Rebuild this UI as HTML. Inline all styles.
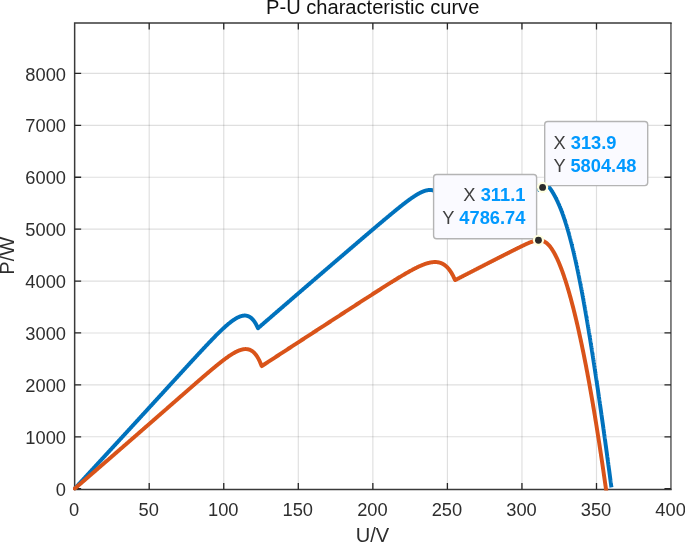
<!DOCTYPE html>
<html lang="en"><head><meta charset="utf-8"><title>P-U characteristic curve</title>
<style>html,body{margin:0;padding:0;background:#fff;overflow:hidden}body{width:685px;height:543px}svg{display:block}text{font-family:"Liberation Sans",Arial,Helvetica,sans-serif;fill:#2e2e2e}.t{font-size:18.3px}.l{font-size:20.1px}.k{fill:#404040;font-size:18.3px}.v{fill:#0099ff;font-weight:bold;font-size:18.3px}</style></head><body>
<svg width="685" height="543" viewBox="0 0 685 543">
<rect width="685" height="543" fill="#fff"/>
<path d="M149.20,23.05 V489.6 M223.75,23.05 V489.6 M298.30,23.05 V489.6 M372.85,23.05 V489.6 M447.40,23.05 V489.6 M521.95,23.05 V489.6 M596.50,23.05 V489.6" stroke="#262626" stroke-opacity="0.15" stroke-width="1.15" fill="none"/>
<path d="M74.65,436.79 H670.95 M74.65,384.88 H670.95 M74.65,332.97 H670.95 M74.65,281.06 H670.95 M74.65,229.15 H670.95 M74.65,177.24 H670.95 M74.65,125.33 H670.95 M74.65,73.42 H670.95" stroke="#262626" stroke-opacity="0.15" stroke-width="1.15" fill="none"/>
<path d="M74.65,489.6 V23.05 H670.95" stroke="#3a3a3a" stroke-width="1.5" fill="none" stroke-linecap="square"/>
<path d="M670.95,23.05 V489.6" stroke="#262626" stroke-width="1.4" fill="none" opacity="0.8"/>
<path d="M74.65,489.6 H670.95" stroke="#3a3a3a" stroke-width="1.5" fill="none" stroke-linecap="square"/>
<path d="M149.20,489.6 v-6.5 M149.20,23.05 v6.5 M223.75,489.6 v-6.5 M223.75,23.05 v6.5 M298.30,489.6 v-6.5 M298.30,23.05 v6.5 M372.85,489.6 v-6.5 M372.85,23.05 v6.5 M447.40,489.6 v-6.5 M447.40,23.05 v6.5 M521.95,489.6 v-6.5 M521.95,23.05 v6.5 M596.50,489.6 v-6.5 M596.50,23.05 v6.5 M74.65,488.70 h6.5 M670.95,488.70 h-6.5 M74.65,436.79 h6.5 M670.95,436.79 h-6.5 M74.65,384.88 h6.5 M670.95,384.88 h-6.5 M74.65,332.97 h6.5 M670.95,332.97 h-6.5 M74.65,281.06 h6.5 M670.95,281.06 h-6.5 M74.65,229.15 h6.5 M670.95,229.15 h-6.5 M74.65,177.24 h6.5 M670.95,177.24 h-6.5 M74.65,125.33 h6.5 M670.95,125.33 h-6.5 M74.65,73.42 h6.5 M670.95,73.42 h-6.5" stroke="#262626" stroke-width="1.3" fill="none"/>
<text class="t" x="74.2" y="515.9" text-anchor="middle">0</text>
<text class="t" x="148.7" y="515.9" text-anchor="middle">50</text>
<text class="t" x="223.3" y="515.9" text-anchor="middle">100</text>
<text class="t" x="297.8" y="515.9" text-anchor="middle">150</text>
<text class="t" x="372.4" y="515.9" text-anchor="middle">200</text>
<text class="t" x="446.9" y="515.9" text-anchor="middle">250</text>
<text class="t" x="521.5" y="515.9" text-anchor="middle">300</text>
<text class="t" x="596.0" y="515.9" text-anchor="middle">350</text>
<text class="t" x="670.6" y="515.9" text-anchor="middle">400</text>
<text class="t" x="66.0" y="495.8" text-anchor="end">0</text>
<text class="t" x="66.0" y="443.8" text-anchor="end">1000</text>
<text class="t" x="66.0" y="391.9" text-anchor="end">2000</text>
<text class="t" x="66.0" y="340.0" text-anchor="end">3000</text>
<text class="t" x="66.0" y="288.1" text-anchor="end">4000</text>
<text class="t" x="66.0" y="236.2" text-anchor="end">5000</text>
<text class="t" x="66.0" y="184.3" text-anchor="end">6000</text>
<text class="t" x="66.0" y="132.4" text-anchor="end">7000</text>
<text class="t" x="66.0" y="80.5" text-anchor="end">8000</text>
<text class="l" x="372.7" y="13.6" text-anchor="middle" style="fill:#111">P-U characteristic curve</text>
<text class="l" x="372.4" y="541.5" text-anchor="middle">U/V</text>
<text class="l" transform="translate(14.4,255.7) rotate(-90)" text-anchor="middle">P/W</text>
<defs><clipPath id="c"><rect x="73" y="22" width="599.6" height="468.6"/></clipPath></defs>
<g clip-path="url(#c)" fill="none" stroke-width="3.95" stroke-linejoin="round" stroke-linecap="round">
<path d="M74.65,488.70 L74.91,488.42 L75.17,488.14 L75.43,487.86 L75.69,487.58 L75.94,487.30 L76.20,487.02 L76.46,486.74 L76.72,486.46 L76.98,486.18 L77.24,485.89 L77.50,485.61 L77.76,485.33 L78.02,485.05 L78.28,484.77 L78.53,484.49 L78.79,484.21 L79.05,483.93 L79.31,483.65 L79.57,483.37 L79.83,483.09 L80.09,482.81 L80.35,482.53 L80.61,482.25 L80.87,481.97 L81.12,481.69 L81.38,481.40 L81.64,481.12 L81.90,480.84 L82.16,480.56 L82.42,480.28 L82.68,480.00 L82.94,479.72 L83.20,479.44 L83.46,479.16 L83.71,478.88 L83.97,478.60 L84.23,478.32 L84.49,478.04 L84.75,477.76 L85.01,477.47 L85.27,477.19 L85.53,476.91 L85.79,476.63 L86.05,476.35 L86.30,476.07 L86.56,475.79 L86.82,475.51 L87.08,475.23 L87.34,474.95 L87.60,474.67 L87.86,474.39 L88.12,474.10 L88.38,473.82 L88.63,473.54 L88.89,473.26 L89.15,472.98 L89.41,472.70 L89.67,472.42 L89.93,472.14 L90.19,471.86 L90.45,471.58 L90.71,471.30 L90.97,471.01 L91.22,470.73 L91.48,470.45 L91.74,470.17 L92.00,469.89 L92.26,469.61 L92.52,469.33 L92.78,469.05 L93.04,468.77 L93.30,468.49 L93.56,468.20 L93.81,467.92 L94.07,467.64 L94.33,467.36 L94.59,467.08 L94.85,466.80 L95.11,466.52 L95.37,466.24 L95.63,465.96 L95.89,465.68 L96.15,465.39 L96.40,465.11 L96.66,464.83 L96.92,464.55 L97.18,464.27 L97.44,463.99 L97.70,463.71 L97.96,463.43 L98.22,463.14 L98.48,462.86 L98.74,462.58 L98.99,462.30 L99.25,462.02 L99.51,461.74 L99.77,461.46 L100.03,461.18 L100.29,460.90 L100.55,460.61 L100.81,460.33 L101.07,460.05 L101.32,459.77 L101.58,459.49 L101.84,459.21 L102.10,458.93 L102.36,458.65 L102.62,458.36 L102.88,458.08 L103.14,457.80 L103.40,457.52 L103.66,457.24 L103.91,456.96 L104.17,456.68 L104.43,456.39 L104.69,456.11 L104.95,455.83 L105.21,455.55 L105.47,455.27 L105.73,454.99 L105.99,454.71 L106.25,454.43 L106.50,454.14 L106.76,453.86 L107.02,453.58 L107.28,453.30 L107.54,453.02 L107.80,452.74 L108.06,452.46 L108.32,452.17 L108.58,451.89 L108.84,451.61 L109.09,451.33 L109.35,451.05 L109.61,450.77 L109.87,450.48 L110.13,450.20 L110.39,449.92 L110.65,449.64 L110.91,449.36 L111.17,449.08 L111.43,448.80 L111.68,448.51 L111.94,448.23 L112.20,447.95 L112.46,447.67 L112.72,447.39 L112.98,447.11 L113.24,446.82 L113.50,446.54 L113.76,446.26 L114.01,445.98 L114.27,445.70 L114.53,445.42 L114.79,445.14 L115.05,444.85 L115.31,444.57 L115.57,444.29 L115.83,444.01 L116.09,443.73 L116.35,443.45 L116.60,443.16 L116.86,442.88 L117.12,442.60 L117.38,442.32 L117.64,442.04 L117.90,441.75 L118.16,441.47 L118.42,441.19 L118.68,440.91 L118.94,440.63 L119.19,440.35 L119.45,440.06 L119.71,439.78 L119.97,439.50 L120.23,439.22 L120.49,438.94 L120.75,438.66 L121.01,438.37 L121.27,438.09 L121.53,437.81 L121.78,437.53 L122.04,437.25 L122.30,436.96 L122.56,436.68 L122.82,436.40 L123.08,436.12 L123.34,435.84 L123.60,435.55 L123.86,435.27 L124.12,434.99 L124.37,434.71 L124.63,434.43 L124.89,434.15 L125.15,433.86 L125.41,433.58 L125.67,433.30 L125.93,433.02 L126.19,432.74 L126.45,432.45 L126.70,432.17 L126.96,431.89 L127.22,431.61 L127.48,431.33 L127.74,431.04 L128.00,430.76 L128.26,430.48 L128.52,430.20 L128.78,429.92 L129.04,429.63 L129.29,429.35 L129.55,429.07 L129.81,428.79 L130.07,428.51 L130.33,428.22 L130.59,427.94 L130.85,427.66 L131.11,427.38 L131.37,427.09 L131.63,426.81 L131.88,426.53 L132.14,426.25 L132.40,425.97 L132.66,425.68 L132.92,425.40 L133.18,425.12 L133.44,424.84 L133.70,424.56 L133.96,424.27 L134.22,423.99 L134.47,423.71 L134.73,423.43 L134.99,423.14 L135.25,422.86 L135.51,422.58 L135.77,422.30 L136.03,422.02 L136.29,421.73 L136.55,421.45 L136.81,421.17 L137.06,420.89 L137.32,420.60 L137.58,420.32 L137.84,420.04 L138.10,419.76 L138.36,419.48 L138.62,419.19 L138.88,418.91 L139.14,418.63 L139.39,418.35 L139.65,418.06 L139.91,417.78 L140.17,417.50 L140.43,417.22 L140.69,416.93 L140.95,416.65 L141.21,416.37 L141.47,416.09 L141.73,415.80 L141.98,415.52 L142.24,415.24 L142.50,414.96 L142.76,414.67 L143.02,414.39 L143.28,414.11 L143.54,413.83 L143.80,413.55 L144.06,413.26 L144.32,412.98 L144.57,412.70 L144.83,412.42 L145.09,412.13 L145.35,411.85 L145.61,411.57 L145.87,411.29 L146.13,411.00 L146.39,410.72 L146.65,410.44 L146.91,410.16 L147.16,409.87 L147.42,409.59 L147.68,409.31 L147.94,409.03 L148.20,408.74 L148.46,408.46 L148.72,408.18 L148.98,407.89 L149.24,407.61 L149.50,407.33 L149.75,407.05 L150.01,406.76 L150.27,406.48 L150.53,406.20 L150.79,405.92 L151.05,405.63 L151.31,405.35 L151.57,405.07 L151.83,404.79 L152.09,404.50 L152.34,404.22 L152.60,403.94 L152.86,403.66 L153.12,403.37 L153.38,403.09 L153.64,402.81 L153.90,402.52 L154.16,402.24 L154.42,401.96 L154.67,401.68 L154.93,401.39 L155.19,401.11 L155.45,400.83 L155.71,400.55 L155.97,400.26 L156.23,399.98 L156.49,399.70 L156.75,399.41 L157.01,399.13 L157.26,398.85 L157.52,398.57 L157.78,398.28 L158.04,398.00 L158.30,397.72 L158.56,397.44 L158.82,397.15 L159.08,396.87 L159.34,396.59 L159.60,396.30 L159.85,396.02 L160.11,395.74 L160.37,395.46 L160.63,395.17 L160.89,394.89 L161.15,394.61 L161.41,394.32 L161.67,394.04 L161.93,393.76 L162.19,393.48 L162.44,393.19 L162.70,392.91 L162.96,392.63 L163.22,392.35 L163.48,392.06 L163.74,391.78 L164.00,391.50 L164.26,391.21 L164.52,390.93 L164.78,390.65 L165.03,390.37 L165.29,390.08 L165.55,389.80 L165.81,389.52 L166.07,389.23 L166.33,388.95 L166.59,388.67 L166.85,388.39 L167.11,388.10 L167.36,387.82 L167.62,387.54 L167.88,387.25 L168.14,386.97 L168.40,386.69 L168.66,386.41 L168.92,386.12 L169.18,385.84 L169.44,385.56 L169.70,385.27 L169.95,384.99 L170.21,384.71 L170.47,384.43 L170.73,384.14 L170.99,383.86 L171.25,383.58 L171.51,383.29 L171.77,383.01 L172.03,382.73 L172.29,382.45 L172.54,382.16 L172.80,381.88 L173.06,381.60 L173.32,381.31 L173.58,381.03 L173.84,380.75 L174.10,380.47 L174.36,380.18 L174.62,379.90 L174.88,379.62 L175.13,379.33 L175.39,379.05 L175.65,378.77 L175.91,378.49 L176.17,378.20 L176.43,377.92 L176.69,377.64 L176.95,377.36 L177.21,377.07 L177.47,376.79 L177.72,376.51 L177.98,376.22 L178.24,375.94 L178.50,375.66 L178.76,375.38 L179.02,375.09 L179.28,374.81 L179.54,374.53 L179.80,374.25 L180.05,373.96 L180.31,373.68 L180.57,373.40 L180.83,373.12 L181.09,372.83 L181.35,372.55 L181.61,372.27 L181.87,371.99 L182.13,371.70 L182.39,371.42 L182.64,371.14 L182.90,370.86 L183.16,370.57 L183.42,370.29 L183.68,370.01 L183.94,369.73 L184.20,369.45 L184.46,369.16 L184.72,368.88 L184.98,368.60 L185.23,368.32 L185.49,368.03 L185.75,367.75 L186.01,367.47 L186.27,367.19 L186.53,366.91 L186.79,366.62 L187.05,366.34 L187.31,366.06 L187.57,365.78 L187.82,365.50 L188.08,365.21 L188.34,364.93 L188.60,364.65 L188.86,364.37 L189.12,364.09 L189.38,363.81 L189.64,363.52 L189.90,363.24 L190.16,362.96 L190.41,362.68 L190.67,362.40 L190.93,362.12 L191.19,361.84 L191.45,361.56 L191.71,361.27 L191.97,360.99 L192.23,360.71 L192.49,360.43 L192.74,360.15 L193.00,359.87 L193.26,359.59 L193.52,359.31 L193.78,359.03 L194.04,358.75 L194.30,358.47 L194.56,358.19 L194.82,357.91 L195.08,357.63 L195.33,357.34 L195.59,357.06 L195.85,356.78 L196.11,356.50 L196.37,356.22 L196.63,355.95 L196.89,355.67 L197.15,355.39 L197.41,355.11 L197.67,354.83 L197.92,354.55 L198.18,354.27 L198.44,353.99 L198.70,353.71 L198.96,353.43 L199.22,353.15 L199.48,352.87 L199.74,352.60 L200.00,352.32 L200.26,352.04 L200.51,351.76 L200.77,351.48 L201.03,351.20 L201.29,350.93 L201.55,350.65 L201.81,350.37 L202.07,350.09 L202.33,349.82 L202.59,349.54 L202.85,349.26 L203.10,348.99 L203.36,348.71 L203.62,348.43 L203.88,348.16 L204.14,347.88 L204.40,347.61 L204.66,347.33 L204.92,347.05 L205.18,346.78 L205.43,346.50 L205.69,346.23 L205.95,345.95 L206.21,345.68 L206.47,345.41 L206.73,345.13 L206.99,344.86 L207.25,344.58 L207.51,344.31 L207.77,344.04 L208.02,343.76 L208.28,343.49 L208.54,343.22 L208.80,342.95 L209.06,342.68 L209.32,342.40 L209.58,342.13 L209.84,341.86 L210.10,341.59 L210.36,341.32 L210.61,341.05 L210.87,340.78 L211.13,340.51 L211.39,340.24 L211.65,339.98 L211.91,339.71 L212.17,339.44 L212.43,339.17 L212.69,338.90 L212.95,338.64 L213.20,338.37 L213.46,338.11 L213.72,337.84 L213.98,337.58 L214.24,337.31 L214.50,337.05 L214.76,336.78 L215.02,336.52 L215.28,336.26 L215.54,335.99 L215.79,335.73 L216.05,335.47 L216.31,335.21 L216.57,334.95 L216.83,334.69 L217.09,334.43 L217.35,334.17 L217.61,333.91 L217.87,333.66 L218.12,333.40 L218.38,333.14 L218.64,332.89 L218.90,332.63 L219.16,332.38 L219.42,332.13 L219.68,331.87 L219.94,331.62 L220.20,331.37 L220.46,331.12 L220.71,330.87 L220.97,330.62 L221.23,330.37 L221.49,330.13 L221.75,329.88 L222.01,329.64 L222.27,329.39 L222.53,329.15 L222.79,328.90 L223.05,328.66 L223.30,328.42 L223.56,328.18 L223.82,327.94 L224.08,327.70 L224.34,327.47 L224.60,327.23 L224.86,327.00 L225.12,326.76 L225.38,326.53 L225.64,326.30 L225.89,326.07 L226.15,325.84 L226.41,325.62 L226.67,325.39 L226.93,325.16 L227.19,324.94 L227.45,324.72 L227.71,324.50 L227.97,324.28 L228.23,324.06 L228.48,323.85 L228.74,323.63 L229.00,323.42 L229.26,323.21 L229.52,323.00 L229.78,322.79 L230.04,322.59 L230.30,322.38 L230.56,322.18 L230.81,321.98 L231.07,321.78 L231.33,321.58 L231.59,321.39 L231.85,321.20 L232.11,321.01 L232.37,320.82 L232.63,320.63 L232.89,320.45 L233.15,320.27 L233.40,320.09 L233.66,319.91 L233.92,319.73 L234.18,319.56 L234.44,319.39 L234.70,319.23 L234.96,319.06 L235.22,318.90 L235.48,318.74 L235.74,318.59 L235.99,318.44 L236.25,318.29 L236.51,318.14 L236.77,318.00 L237.03,317.86 L237.29,317.72 L237.55,317.58 L237.81,317.45 L238.07,317.33 L238.33,317.20 L238.58,317.09 L238.84,316.97 L239.10,316.86 L239.36,316.75 L239.62,316.65 L239.88,316.55 L240.14,316.45 L240.40,316.36 L240.66,316.27 L240.92,316.19 L241.17,316.11 L241.43,316.04 L241.69,315.97 L241.95,315.91 L242.21,315.85 L242.47,315.80 L242.73,315.75 L242.99,315.71 L243.25,315.67 L243.50,315.64 L243.76,315.61 L244.02,315.59 L244.28,315.58 L244.54,315.57 L244.80,315.57 L245.06,315.58 L245.32,315.59 L245.58,315.61 L245.84,315.63 L246.09,315.67 L246.35,315.71 L246.61,315.75 L246.87,315.81 L247.13,315.87 L247.39,315.94 L247.65,316.02 L247.91,316.10 L248.17,316.20 L248.43,316.30 L248.68,316.41 L248.94,316.54 L249.20,316.67 L249.46,316.81 L249.72,316.95 L249.98,317.11 L250.24,317.28 L250.50,317.46 L250.76,317.65 L251.02,317.85 L251.27,318.06 L251.53,318.29 L251.79,318.52 L252.05,318.77 L252.31,319.03 L252.57,319.30 L252.83,319.58 L253.09,319.88 L253.35,320.19 L253.61,320.51 L253.86,320.84 L254.12,321.19 L254.38,321.56 L254.64,321.94 L254.90,322.33 L255.16,322.74 L255.42,323.17 L255.68,323.61 L255.94,324.07 L256.19,324.54 L256.45,325.03 L256.71,325.54 L256.97,326.07 L257.23,326.62 L257.49,327.18 L257.75,327.76 L258.01,328.20 L258.27,327.97 L258.53,327.75 L258.78,327.52 L259.04,327.30 L259.30,327.08 L259.56,326.85 L259.82,326.63 L260.08,326.40 L260.34,326.18 L260.60,325.96 L260.86,325.73 L261.12,325.51 L261.37,325.28 L261.63,325.06 L261.89,324.83 L262.15,324.61 L262.41,324.39 L262.67,324.16 L262.93,323.94 L263.19,323.71 L263.45,323.49 L263.71,323.27 L263.96,323.04 L264.22,322.82 L264.48,322.59 L264.74,322.37 L265.00,322.14 L265.26,321.92 L265.52,321.70 L265.78,321.47 L266.04,321.25 L266.30,321.02 L266.55,320.80 L266.81,320.58 L267.07,320.35 L267.33,320.13 L267.59,319.90 L267.85,319.68 L268.11,319.46 L268.37,319.23 L268.63,319.01 L268.88,318.78 L269.14,318.56 L269.40,318.34 L269.66,318.11 L269.92,317.89 L270.18,317.66 L270.44,317.44 L270.70,317.22 L270.96,316.99 L271.22,316.77 L271.47,316.54 L271.73,316.32 L271.99,316.10 L272.25,315.87 L272.51,315.65 L272.77,315.42 L273.03,315.20 L273.29,314.98 L273.55,314.75 L273.81,314.53 L274.06,314.31 L274.32,314.08 L274.58,313.86 L274.84,313.63 L275.10,313.41 L275.36,313.19 L275.62,312.96 L275.88,312.74 L276.14,312.51 L276.40,312.29 L276.65,312.07 L276.91,311.84 L277.17,311.62 L277.43,311.40 L277.69,311.17 L277.95,310.95 L278.21,310.72 L278.47,310.50 L278.73,310.28 L278.99,310.05 L279.24,309.83 L279.50,309.61 L279.76,309.38 L280.02,309.16 L280.28,308.93 L280.54,308.71 L280.80,308.49 L281.06,308.26 L281.32,308.04 L281.58,307.82 L281.83,307.59 L282.09,307.37 L282.35,307.15 L282.61,306.92 L282.87,306.70 L283.13,306.47 L283.39,306.25 L283.65,306.03 L283.91,305.80 L284.16,305.58 L284.42,305.36 L284.68,305.13 L284.94,304.91 L285.20,304.69 L285.46,304.46 L285.72,304.24 L285.98,304.01 L286.24,303.79 L286.50,303.57 L286.75,303.34 L287.01,303.12 L287.27,302.90 L287.53,302.67 L287.79,302.45 L288.05,302.23 L288.31,302.00 L288.57,301.78 L288.83,301.56 L289.09,301.33 L289.34,301.11 L289.60,300.89 L289.86,300.66 L290.12,300.44 L290.38,300.22 L290.64,299.99 L290.90,299.77 L291.16,299.55 L291.42,299.32 L291.68,299.10 L291.93,298.88 L292.19,298.65 L292.45,298.43 L292.71,298.21 L292.97,297.98 L293.23,297.76 L293.49,297.53 L293.75,297.31 L294.01,297.09 L294.27,296.86 L294.52,296.64 L294.78,296.42 L295.04,296.20 L295.30,295.97 L295.56,295.75 L295.82,295.53 L296.08,295.30 L296.34,295.08 L296.60,294.86 L296.85,294.63 L297.11,294.41 L297.37,294.19 L297.63,293.96 L297.89,293.74 L298.15,293.52 L298.41,293.29 L298.67,293.07 L298.93,292.85 L299.19,292.62 L299.44,292.40 L299.70,292.18 L299.96,291.95 L300.22,291.73 L300.48,291.51 L300.74,291.28 L301.00,291.06 L301.26,290.84 L301.52,290.61 L301.78,290.39 L302.03,290.17 L302.29,289.95 L302.55,289.72 L302.81,289.50 L303.07,289.28 L303.33,289.05 L303.59,288.83 L303.85,288.61 L304.11,288.38 L304.37,288.16 L304.62,287.94 L304.88,287.71 L305.14,287.49 L305.40,287.27 L305.66,287.05 L305.92,286.82 L306.18,286.60 L306.44,286.38 L306.70,286.15 L306.96,285.93 L307.21,285.71 L307.47,285.48 L307.73,285.26 L307.99,285.04 L308.25,284.82 L308.51,284.59 L308.77,284.37 L309.03,284.15 L309.29,283.92 L309.54,283.70 L309.80,283.48 L310.06,283.25 L310.32,283.03 L310.58,282.81 L310.84,282.59 L311.10,282.36 L311.36,282.14 L311.62,281.92 L311.88,281.69 L312.13,281.47 L312.39,281.25 L312.65,281.03 L312.91,280.80 L313.17,280.58 L313.43,280.36 L313.69,280.13 L313.95,279.91 L314.21,279.69 L314.47,279.47 L314.72,279.24 L314.98,279.02 L315.24,278.80 L315.50,278.58 L315.76,278.35 L316.02,278.13 L316.28,277.91 L316.54,277.68 L316.80,277.46 L317.06,277.24 L317.31,277.02 L317.57,276.79 L317.83,276.57 L318.09,276.35 L318.35,276.13 L318.61,275.90 L318.87,275.68 L319.13,275.46 L319.39,275.23 L319.65,275.01 L319.90,274.79 L320.16,274.57 L320.42,274.34 L320.68,274.12 L320.94,273.90 L321.20,273.68 L321.46,273.45 L321.72,273.23 L321.98,273.01 L322.23,272.79 L322.49,272.56 L322.75,272.34 L323.01,272.12 L323.27,271.90 L323.53,271.67 L323.79,271.45 L324.05,271.23 L324.31,271.01 L324.57,270.78 L324.82,270.56 L325.08,270.34 L325.34,270.12 L325.60,269.89 L325.86,269.67 L326.12,269.45 L326.38,269.23 L326.64,269.00 L326.90,268.78 L327.16,268.56 L327.41,268.34 L327.67,268.11 L327.93,267.89 L328.19,267.67 L328.45,267.45 L328.71,267.22 L328.97,267.00 L329.23,266.78 L329.49,266.56 L329.75,266.33 L330.00,266.11 L330.26,265.89 L330.52,265.67 L330.78,265.44 L331.04,265.22 L331.30,265.00 L331.56,264.78 L331.82,264.56 L332.08,264.33 L332.34,264.11 L332.59,263.89 L332.85,263.67 L333.11,263.44 L333.37,263.22 L333.63,263.00 L333.89,262.78 L334.15,262.55 L334.41,262.33 L334.67,262.11 L334.92,261.89 L335.18,261.67 L335.44,261.44 L335.70,261.22 L335.96,261.00 L336.22,260.78 L336.48,260.55 L336.74,260.33 L337.00,260.11 L337.26,259.89 L337.51,259.67 L337.77,259.44 L338.03,259.22 L338.29,259.00 L338.55,258.78 L338.81,258.56 L339.07,258.33 L339.33,258.11 L339.59,257.89 L339.85,257.67 L340.10,257.45 L340.36,257.22 L340.62,257.00 L340.88,256.78 L341.14,256.56 L341.40,256.33 L341.66,256.11 L341.92,255.89 L342.18,255.67 L342.44,255.45 L342.69,255.22 L342.95,255.00 L343.21,254.78 L343.47,254.56 L343.73,254.34 L343.99,254.11 L344.25,253.89 L344.51,253.67 L344.77,253.45 L345.03,253.23 L345.28,253.01 L345.54,252.78 L345.80,252.56 L346.06,252.34 L346.32,252.12 L346.58,251.90 L346.84,251.67 L347.10,251.45 L347.36,251.23 L347.61,251.01 L347.87,250.79 L348.13,250.57 L348.39,250.34 L348.65,250.12 L348.91,249.90 L349.17,249.68 L349.43,249.46 L349.69,249.23 L349.95,249.01 L350.20,248.79 L350.46,248.57 L350.72,248.35 L350.98,248.13 L351.24,247.90 L351.50,247.68 L351.76,247.46 L352.02,247.24 L352.28,247.02 L352.54,246.80 L352.79,246.57 L353.05,246.35 L353.31,246.13 L353.57,245.91 L353.83,245.69 L354.09,245.47 L354.35,245.24 L354.61,245.02 L354.87,244.80 L355.13,244.58 L355.38,244.36 L355.64,244.14 L355.90,243.92 L356.16,243.69 L356.42,243.47 L356.68,243.25 L356.94,243.03 L357.20,242.81 L357.46,242.59 L357.72,242.37 L357.97,242.14 L358.23,241.92 L358.49,241.70 L358.75,241.48 L359.01,241.26 L359.27,241.04 L359.53,240.82 L359.79,240.60 L360.05,240.37 L360.30,240.15 L360.56,239.93 L360.82,239.71 L361.08,239.49 L361.34,239.27 L361.60,239.05 L361.86,238.83 L362.12,238.60 L362.38,238.38 L362.64,238.16 L362.89,237.94 L363.15,237.72 L363.41,237.50 L363.67,237.28 L363.93,237.06 L364.19,236.84 L364.45,236.62 L364.71,236.39 L364.97,236.17 L365.23,235.95 L365.48,235.73 L365.74,235.51 L366.00,235.29 L366.26,235.07 L366.52,234.85 L366.78,234.63 L367.04,234.41 L367.30,234.19 L367.56,233.97 L367.82,233.74 L368.07,233.52 L368.33,233.30 L368.59,233.08 L368.85,232.86 L369.11,232.64 L369.37,232.42 L369.63,232.20 L369.89,231.98 L370.15,231.76 L370.41,231.54 L370.66,231.32 L370.92,231.10 L371.18,230.88 L371.44,230.66 L371.70,230.44 L371.96,230.22 L372.22,230.00 L372.48,229.78 L372.74,229.56 L372.99,229.34 L373.25,229.12 L373.51,228.90 L373.77,228.68 L374.03,228.46 L374.29,228.24 L374.55,228.02 L374.81,227.80 L375.07,227.58 L375.33,227.36 L375.58,227.14 L375.84,226.92 L376.10,226.70 L376.36,226.48 L376.62,226.26 L376.88,226.04 L377.14,225.82 L377.40,225.60 L377.66,225.38 L377.92,225.16 L378.17,224.94 L378.43,224.72 L378.69,224.50 L378.95,224.28 L379.21,224.07 L379.47,223.85 L379.73,223.63 L379.99,223.41 L380.25,223.19 L380.51,222.97 L380.76,222.75 L381.02,222.53 L381.28,222.31 L381.54,222.10 L381.80,221.88 L382.06,221.66 L382.32,221.44 L382.58,221.22 L382.84,221.00 L383.10,220.79 L383.35,220.57 L383.61,220.35 L383.87,220.13 L384.13,219.91 L384.39,219.70 L384.65,219.48 L384.91,219.26 L385.17,219.04 L385.43,218.83 L385.68,218.61 L385.94,218.39 L386.20,218.18 L386.46,217.96 L386.72,217.74 L386.98,217.53 L387.24,217.31 L387.50,217.09 L387.76,216.88 L388.02,216.66 L388.27,216.44 L388.53,216.23 L388.79,216.01 L389.05,215.80 L389.31,215.58 L389.57,215.36 L389.83,215.15 L390.09,214.93 L390.35,214.72 L390.61,214.50 L390.86,214.29 L391.12,214.07 L391.38,213.86 L391.64,213.64 L391.90,213.43 L392.16,213.22 L392.42,213.00 L392.68,212.79 L392.94,212.57 L393.20,212.36 L393.45,212.15 L393.71,211.94 L393.97,211.72 L394.23,211.51 L394.49,211.30 L394.75,211.08 L395.01,210.87 L395.27,210.66 L395.53,210.45 L395.79,210.24 L396.04,210.03 L396.30,209.82 L396.56,209.61 L396.82,209.40 L397.08,209.19 L397.34,208.98 L397.60,208.77 L397.86,208.56 L398.12,208.35 L398.37,208.14 L398.63,207.93 L398.89,207.72 L399.15,207.51 L399.41,207.31 L399.67,207.10 L399.93,206.89 L400.19,206.69 L400.45,206.48 L400.71,206.27 L400.96,206.07 L401.22,205.86 L401.48,205.66 L401.74,205.45 L402.00,205.25 L402.26,205.05 L402.52,204.84 L402.78,204.64 L403.04,204.44 L403.30,204.24 L403.55,204.03 L403.81,203.83 L404.07,203.63 L404.33,203.43 L404.59,203.23 L404.85,203.03 L405.11,202.84 L405.37,202.64 L405.63,202.44 L405.89,202.24 L406.14,202.05 L406.40,201.85 L406.66,201.66 L406.92,201.46 L407.18,201.27 L407.44,201.08 L407.70,200.88 L407.96,200.69 L408.22,200.50 L408.48,200.31 L408.73,200.12 L408.99,199.93 L409.25,199.74 L409.51,199.56 L409.77,199.37 L410.03,199.18 L410.29,199.00 L410.55,198.82 L410.81,198.63 L411.07,198.45 L411.32,198.27 L411.58,198.09 L411.84,197.91 L412.10,197.73 L412.36,197.55 L412.62,197.38 L412.88,197.20 L413.14,197.03 L413.40,196.86 L413.65,196.68 L413.91,196.51 L414.17,196.34 L414.43,196.18 L414.69,196.01 L414.95,195.84 L415.21,195.68 L415.47,195.51 L415.73,195.35 L415.99,195.19 L416.24,195.03 L416.50,194.88 L416.76,194.72 L417.02,194.57 L417.28,194.41 L417.54,194.26 L417.80,194.11 L418.06,193.97 L418.32,193.82 L418.58,193.68 L418.83,193.53 L419.09,193.39 L419.35,193.26 L419.61,193.12 L419.87,192.98 L420.13,192.85 L420.39,192.72 L420.65,192.59 L420.91,192.47 L421.17,192.34 L421.42,192.22 L421.68,192.10 L421.94,191.99 L422.20,191.87 L422.46,191.76 L422.72,191.65 L422.98,191.55 L423.24,191.45 L423.50,191.35 L423.76,191.25 L424.01,191.15 L424.27,191.06 L424.53,190.97 L424.79,190.89 L425.05,190.81 L425.31,190.73 L425.57,190.65 L425.83,190.58 L426.09,190.51 L426.34,190.45 L426.60,190.39 L426.86,190.33 L427.12,190.28 L427.38,190.23 L427.64,190.18 L427.90,190.14 L428.16,190.11 L428.42,190.07 L428.68,190.05 L428.93,190.02 L429.19,190.01 L429.45,189.99 L429.71,189.99 L429.97,189.98 L430.23,189.99 L430.49,189.99 L430.75,190.01 L431.01,190.03 L431.27,190.05 L431.52,190.08 L431.78,190.12 L432.04,190.16 L432.30,190.21 L432.56,190.26 L432.82,190.33 L433.08,190.40 L433.34,190.47 L433.60,190.55 L433.86,190.64 L434.11,190.74 L434.37,190.85 L434.63,190.96 L434.89,191.08 L435.15,191.21 L435.41,191.35 L435.67,191.50 L435.93,191.65 L436.19,191.82 L436.45,191.99 L436.70,192.17 L436.96,192.37 M537.31,190.21 L537.37,190.18 L537.44,190.14 L537.50,190.11 L537.57,190.07 L537.64,190.04 L537.70,190.00 L537.77,189.97 L537.83,189.94 L537.90,189.90 L537.96,189.87 L538.03,189.83 L538.10,189.80 L538.16,189.76 L538.23,189.73 L538.29,189.70 L538.36,189.66 L538.43,189.63 L538.49,189.59 L538.56,189.56 L538.62,189.52 L538.69,189.49 L538.75,189.46 L538.82,189.42 L538.89,189.39 L538.95,189.35 L539.02,189.32 L539.08,189.29 L539.15,189.25 L539.21,189.22 L539.28,189.18 L539.35,189.15 L539.41,189.11 L539.48,189.08 L539.54,189.05 L539.61,189.01 L539.67,188.98 L539.74,188.94 L539.81,188.91 L539.87,188.87 L539.94,188.84 L540.00,188.81 L540.07,188.77 L540.13,188.74 L540.20,188.70 L540.27,188.67 L540.33,188.64 L540.40,188.60 L540.46,188.57 L540.53,188.53 L540.60,188.50 L540.66,188.46 L540.73,188.43 L540.79,188.40 L540.86,188.36 L540.92,188.33 L540.99,188.29 L541.06,188.26 L541.12,188.23 L541.19,188.19 L541.25,188.16 L541.32,188.12 L541.38,188.09 L541.45,188.05 L541.52,188.02 L541.58,187.99 L541.65,187.95 L541.71,187.92 L541.78,187.88 L541.84,187.85 L541.91,187.82 L541.98,187.78 L542.04,187.75 L542.11,187.71 L542.17,187.68 L542.24,187.65 L542.30,187.61 L542.37,187.58 L542.44,187.54 L542.50,187.51 L542.57,187.47 L542.63,187.44 L542.70,187.41 L542.77,187.37 L542.83,187.34 L542.90,187.30 L542.96,187.27 L543.03,187.24 L543.09,187.20 L543.16,187.17 L543.23,187.13 L543.29,187.10 L543.36,187.07 L543.42,187.03 L543.49,187.00 L543.55,186.96 L543.62,186.93 L543.69,186.90 L543.75,186.86 L543.82,186.83 L543.88,186.79 L543.95,186.76 L544.01,186.73 L544.08,186.69 L544.15,186.66 L544.21,186.62 L544.28,186.59 L544.34,186.56 L544.41,186.52 L544.47,186.49 L544.54,186.45 L544.61,186.42 L544.67,186.38 L544.74,186.35 L544.80,186.32 L544.87,186.28 L544.94,186.25 L545.00,186.21 L545.07,186.18 L545.13,186.15 L545.20,186.11 L545.26,186.08 L545.33,186.04 L545.40,186.01 L545.46,185.98 L545.53,185.94 L545.59,185.91 L545.66,185.87 L545.72,185.84 L545.79,185.81 L545.86,185.77 L545.92,185.74 L545.99,185.70 L546.05,185.67 L546.12,185.64 L546.18,185.60 L546.25,185.57 L546.32,185.54 L546.38,185.50 L546.45,185.47 L546.51,185.44 L546.58,185.40 L546.64,185.37 L546.71,185.34 L546.78,185.32 L546.84,185.29 L546.91,185.27 L546.97,185.26 L547.04,185.25 L547.11,185.26 L547.17,185.27 L547.24,185.28 L547.30,185.31 L547.37,185.34 L547.43,185.38 L547.50,185.43 L547.57,185.47 L547.63,185.53 L547.70,185.58 L547.76,185.64 L547.83,185.70 L547.89,185.76 L547.96,185.82 L548.03,185.89 L548.09,185.96 L548.16,186.03 L548.22,186.10 L548.29,186.17 L548.35,186.24 L548.42,186.31 L548.49,186.39 L548.55,186.46 L548.62,186.54 L548.68,186.62 L548.75,186.70 L548.81,186.78 L548.88,186.86 L548.95,186.94 L549.01,187.02 L549.08,187.10 L549.14,187.18 L549.21,187.26 L549.28,187.35 L549.34,187.43 L549.41,187.52 L549.47,187.60 L549.54,187.69 L549.60,187.77 L549.67,187.86 L549.74,187.95 L549.80,188.04 L549.87,188.12 L549.93,188.21 L550.00,188.30 L550.06,188.39 L550.13,188.48 L550.20,188.57 L550.26,188.67 L550.33,188.76 L550.39,188.85 L550.46,188.94 L550.52,189.04 L550.59,189.13 L550.66,189.22 L550.72,189.32 L550.79,189.41 L550.85,189.51 L550.92,189.61 L550.98,189.70 L551.05,189.80 L551.12,189.90 L551.18,189.99 L551.25,190.09 L551.31,190.19 L551.38,190.29 L551.45,190.39 L551.51,190.49 L551.58,190.59 L551.64,190.69 L551.71,190.79 L551.77,190.89 L551.84,191.00 L551.91,191.10 L551.97,191.20 L552.04,191.30 L552.10,191.41 L552.17,191.51 L552.23,191.62 L552.30,191.72 L552.37,191.83 L552.43,191.93 L552.50,192.04 L552.56,192.15 L552.63,192.26 L552.69,192.36 L552.76,192.47 L552.83,192.58 L552.89,192.69 L552.96,192.80 L553.02,192.91 L553.09,193.02 L553.15,193.13 L553.22,193.24 L553.29,193.35 L553.35,193.46 L553.42,193.58 L553.48,193.69 L553.55,193.80 L553.62,193.92 L553.68,194.03 L553.75,194.14 L553.81,194.26 L553.88,194.38 L553.94,194.49 L554.01,194.61 L554.08,194.72 L554.14,194.84 L554.21,194.96 L554.27,195.08 L554.34,195.20 L554.40,195.32 L554.47,195.43 L554.54,195.55 L554.60,195.68 L554.67,195.80 L554.73,195.92 L554.80,196.04 L554.86,196.16 L554.93,196.28 L555.00,196.41 L555.06,196.53 L555.13,196.65 L555.19,196.78 L555.26,196.90 L555.32,197.03 L555.39,197.15 L555.46,197.28 L555.52,197.41 L555.59,197.53 L555.65,197.66 L555.72,197.79 L555.79,197.92 L555.85,198.05 L555.92,198.18 L555.98,198.31 L556.05,198.44 L556.11,198.57 L556.18,198.70 L556.25,198.83 L556.31,198.96 L556.38,199.09 L556.44,199.23 L556.51,199.36 L556.57,199.50 L556.64,199.63 L556.71,199.76 L556.77,199.90 L556.84,200.04 L556.90,200.17 L556.97,200.31 L557.03,200.45 L557.10,200.58 L557.17,200.72 L557.23,200.86 L557.30,201.00 L557.36,201.14 L557.43,201.28 L557.49,201.42 L557.56,201.56 L557.63,201.70 L557.69,201.85 L557.76,201.99 L557.82,202.13 L557.89,202.27 L557.96,202.42 L558.02,202.56 L558.09,202.71 L558.15,202.85 L558.22,203.00 L558.28,203.15 L558.35,203.29 L558.42,203.44 L558.48,203.59 L558.55,203.74 L558.61,203.88 L558.68,204.03 L558.74,204.18 L558.81,204.33 L558.88,204.48 L558.94,204.64 L559.01,204.79 L559.07,204.94 L559.14,205.09 L559.20,205.25 L559.27,205.40 L559.34,205.55 L559.40,205.71 L559.47,205.86 L559.53,206.02 L559.60,206.18 L559.66,206.33 L559.73,206.49 L559.80,206.65 L559.86,206.81 L559.93,206.97 L559.99,207.13 L560.06,207.29 L560.13,207.45 L560.19,207.61 L560.26,207.77 L560.32,207.93 L560.39,208.09 L560.45,208.26 L560.52,208.42 L560.59,208.58 L560.65,208.75 L560.72,208.91 L560.78,209.08 L560.85,209.24 L560.91,209.41 L560.98,209.58 L561.05,209.75 L561.11,209.91 L561.18,210.08 L561.24,210.25 L561.31,210.42 L561.37,210.59 L561.44,210.76 L561.51,210.93 L561.57,211.11 L561.64,211.28 L561.70,211.45 L561.77,211.63 L561.83,211.80 L561.90,211.97 L561.97,212.15 L562.03,212.32 L562.10,212.50 L562.16,212.68 L562.23,212.85 L562.30,213.03 L562.36,213.21 L562.43,213.39 L562.49,213.57 L562.56,213.75 L562.62,213.93 L562.69,214.11 L562.76,214.29 L562.82,214.47 L562.89,214.66 L562.95,214.84 L563.02,215.02 L563.08,215.21 L563.15,215.39 L563.22,215.58 L563.28,215.76 L563.35,215.95 L563.41,216.14 L563.48,216.33 L563.54,216.51 L563.61,216.70 L563.68,216.89 L563.74,217.08 L563.81,217.27 L563.87,217.46 L563.94,217.65 L564.00,217.85 L564.07,218.04 L564.14,218.23 L564.20,218.43 L564.27,218.62 L564.33,218.82 L564.40,219.01 L564.47,219.21 L564.53,219.40 L564.60,219.60 L564.66,219.80 L564.73,220.00 L564.79,220.20 L564.86,220.40 L564.93,220.59 L564.99,220.80 L565.06,221.00 L565.12,221.20 L565.19,221.40 L565.25,221.60 L565.32,221.81 L565.39,222.01 L565.45,222.22 L565.52,222.42 L565.58,222.63 L565.65,222.83 L565.71,223.04 L565.78,223.25 L565.85,223.45 L565.91,223.66 L565.98,223.87 L566.04,224.08 L566.11,224.29 L566.17,224.50 L566.24,224.71 L566.31,224.93 L566.37,225.14 L566.44,225.35 L566.50,225.57 L566.57,225.78 L566.64,225.99 L566.70,226.21 L566.77,226.43 L566.83,226.64 L566.90,226.86 L566.96,227.08 L567.03,227.30 L567.10,227.52 L567.16,227.74 L567.23,227.96 L567.29,228.18 L567.36,228.40 L567.42,228.62 L567.49,228.84 L567.56,229.07 L567.62,229.29 L567.69,229.51 L567.75,229.74 L567.82,229.96 L567.88,230.19 L567.95,230.42 L568.02,230.64 L568.08,230.87 L568.15,231.10 L568.21,231.33 L568.28,231.56 L568.34,231.79 L568.41,232.02 L568.48,232.25 L568.54,232.48 L568.61,232.72 L568.67,232.95 L568.74,233.18 L568.81,233.42 L568.87,233.65 L568.94,233.89 L569.00,234.12 L569.07,234.36 L569.13,234.60 L569.20,234.84 L569.27,235.07 L569.33,235.31 L569.40,235.55 L569.46,235.79 L569.53,236.03 L569.59,236.28 L569.66,236.52 L569.73,236.76 L569.79,237.00 L569.86,237.25 L569.92,237.49 L569.99,237.74 L570.05,237.98 L570.12,238.23 L570.19,238.48 L570.25,238.72 L570.32,238.97 L570.38,239.22 L570.45,239.47 L570.51,239.72 L570.58,239.97 L570.65,240.22 L570.71,240.47 L570.78,240.73 L570.84,240.98 L570.91,241.23 L570.98,241.49 L571.04,241.74 L571.11,242.00 L571.17,242.25 L571.24,242.51 L571.30,242.77 L571.37,243.02 L571.44,243.28 L571.50,243.54 L571.57,243.80 L571.63,244.06 L571.70,244.32 L571.76,244.58 L571.83,244.84 L571.90,245.11 L571.96,245.37 L572.03,245.63 L572.09,245.90 L572.16,246.16 L572.22,246.43 L572.29,246.69 L572.36,246.96 L572.42,247.23 L572.49,247.49 L572.55,247.76 L572.62,248.03 L572.68,248.30 L572.75,248.57 L572.82,248.84 L572.88,249.11 L572.95,249.39 L573.01,249.66 L573.08,249.93 L573.15,250.21 L573.21,250.48 L573.28,250.76 L573.34,251.03 L573.41,251.31 L573.47,251.58 L573.54,251.86 L573.61,252.14 L573.67,252.42 L573.74,252.70 L573.80,252.98 L573.87,253.26 L573.93,253.54 L574.00,253.82 L574.07,254.10 L574.13,254.39 L574.20,254.67 L574.26,254.95 L574.33,255.24 L574.39,255.52 L574.46,255.81 L574.53,256.09 L574.59,256.38 L574.66,256.67 L574.72,256.96 L574.79,257.25 L574.85,257.53 L574.92,257.82 L574.99,258.11 L575.05,258.41 L575.12,258.70 L575.18,258.99 L575.25,259.28 L575.32,259.58 L575.38,259.87 L575.45,260.17 L575.51,260.46 L575.58,260.75 L575.64,261.05 L575.71,261.35 L575.78,261.65 L575.84,261.94 L575.91,262.24 L575.97,262.54 L576.04,262.84 L576.10,263.14 L576.17,263.44 L576.24,263.74 L576.30,264.05 L576.37,264.35 L576.43,264.65 L576.50,264.96 L576.56,265.26 L576.63,265.57 L576.70,265.87 L576.76,266.18 L576.83,266.49 L576.89,266.79 L576.96,267.10 L577.02,267.41 L577.09,267.72 L577.16,268.03 L577.22,268.34 L577.29,268.65 L577.35,268.96 L577.42,269.27 L577.49,269.59 L577.55,269.90 L577.62,270.21 L577.68,270.52 L577.75,270.84 L577.81,271.16 L577.88,271.47 L577.95,271.79 L578.01,272.10 L578.08,272.42 L578.14,272.74 L578.21,273.06 L578.27,273.38 L578.34,273.70 L578.41,274.02 L578.47,274.34 L578.54,274.66 L578.60,274.98 L578.67,275.31 L578.73,275.63 L578.80,275.95 L578.87,276.28 L578.93,276.60 L579.00,276.93 L579.06,277.25 L579.13,277.58 L579.19,277.91 L579.26,278.24 L579.33,278.56 L579.39,278.89 L579.46,279.22 L579.52,279.55 L579.59,279.88 L579.66,280.21 L579.72,280.54 L579.79,280.88 L579.85,281.21 L579.92,281.54 L579.98,281.88 L580.05,282.21 L580.12,282.54 L580.18,282.88 L580.25,283.21 L580.31,283.55 L580.38,283.89 L580.44,284.23 L580.51,284.56 L580.58,284.90 L580.64,285.24 L580.71,285.58 L580.77,285.92 L580.84,286.26 L580.90,286.60 L580.97,286.94 L581.04,287.29 L581.10,287.63 L581.17,287.97 L581.23,288.32 L581.30,288.66 L581.36,289.01 L581.43,289.35 L581.50,289.70 L581.56,290.05 L581.63,290.39 L581.69,290.74 L581.76,291.09 L581.83,291.43 L581.89,291.78 L581.96,292.14 L582.02,292.49 L582.09,292.84 L582.15,293.19 L582.22,293.54 L582.29,293.89 L582.35,294.24 L582.42,294.60 L582.48,294.95 L582.55,295.30 L582.61,295.66 L582.68,296.01 L582.75,296.37 L582.81,296.73 L582.88,297.08 L582.94,297.44 L583.01,297.80 L583.07,298.16 L583.14,298.52 L583.21,298.87 L583.27,299.23 L583.34,299.59 L583.40,299.95 L583.47,300.32 L583.53,300.68 L583.60,301.04 L583.67,301.40 L583.73,301.77 L583.80,302.13 L583.86,302.49 L583.93,302.86 L584.00,303.22 L584.06,303.59 L584.13,303.96 L584.19,304.32 L584.26,304.69 L584.32,305.06 L584.39,305.43 L584.46,305.80 L584.52,306.16 L584.59,306.53 L584.65,306.90 L584.72,307.27 L584.78,307.64 L584.85,308.02 L584.92,308.39 L584.98,308.76 L585.05,309.13 L585.11,309.51 L585.18,309.88 L585.24,310.26 L585.31,310.63 L585.38,311.01 L585.44,311.38 L585.51,311.76 L585.57,312.13 L585.64,312.51 L585.70,312.89 L585.77,313.27 L585.84,313.65 L585.90,314.03 L585.97,314.40 L586.03,314.78 L586.10,315.16 L586.17,315.55 L586.23,315.93 L586.30,316.31 L586.36,316.69 L586.43,317.07 L586.49,317.46 L586.56,317.84 L586.63,318.23 L586.69,318.61 L586.76,318.99 L586.82,319.38 L586.89,319.76 L586.95,320.15 L587.02,320.54 L587.09,320.93 L587.15,321.31 L587.22,321.70 L587.28,322.09 L587.35,322.48 L587.41,322.87 L587.48,323.26 L587.55,323.65 L587.61,324.04 L587.68,324.43 L587.74,324.82 L587.81,325.21 L587.87,325.60 L587.94,326.00 L588.01,326.39 L588.07,326.79 L588.14,327.18 L588.20,327.57 L588.27,327.97 L588.34,328.36 L588.40,328.76 L588.47,329.16 L588.53,329.55 L588.60,329.95 L588.66,330.35 L588.73,330.75 L588.80,331.14 L588.86,331.54 L588.93,331.94 L588.99,332.34 L589.06,332.74 L589.12,333.14 L589.19,333.54 L589.26,333.94 L589.32,334.35 L589.39,334.75 L589.45,335.15 L589.52,335.56 L589.58,335.96 L589.65,336.36 L589.72,336.77 L589.78,337.17 L589.85,337.57 L589.91,337.98 L589.98,338.39 L590.04,338.79 L590.11,339.20 L590.18,339.61 L590.24,340.01 L590.31,340.42 L590.37,340.83 L590.44,341.24 L590.51,341.65 L590.57,342.06 L590.64,342.47 L590.70,342.88 L590.77,343.29 L590.83,343.70 L590.90,344.11 L590.97,344.52 L591.03,344.93 L591.10,345.35 L591.16,345.76 L591.23,346.17 L591.29,346.58 L591.36,347.00 L591.43,347.41 L591.49,347.83 L591.56,348.24 L591.62,348.66 L591.69,349.07 L591.75,349.49 L591.82,349.91 L591.89,350.32 L591.95,350.74 L592.02,351.16 L592.08,351.58 L592.15,352.00 L592.21,352.41 L592.28,352.83 L592.35,353.25 L592.41,353.67 L592.48,354.09 L592.54,354.51 L592.61,354.94 L592.68,355.36 L592.74,355.78 L592.81,356.20 L592.87,356.62 L592.94,357.05 L593.00,357.47 L593.07,357.89 L593.14,358.32 L593.20,358.74 L593.27,359.17 L593.33,359.59 L593.40,360.01 L593.46,360.44 L593.53,360.87 L593.60,361.29 L593.66,361.72 L593.73,362.15 L593.79,362.58 L593.86,363.00 L593.92,363.43 L593.99,363.86 L594.06,364.29 L594.12,364.72 L594.19,365.15 L594.25,365.58 L594.32,366.01 L594.38,366.44 L594.45,366.87 L594.52,367.30 L594.58,367.73 L594.65,368.16 L594.71,368.60 L594.78,369.03 L594.85,369.46 L594.91,369.90 L594.98,370.33 L595.04,370.76 L595.11,371.20 L595.17,371.63 L595.24,372.07 L595.31,372.50 L595.37,372.94 L595.44,373.37 L595.50,373.81 L595.57,374.25 L595.63,374.68 L595.70,375.12 L595.77,375.56 L595.83,376.00 L595.90,376.43 L595.96,376.87 L596.03,377.31 L596.09,377.75 L596.16,378.19 L596.23,378.63 L596.29,379.07 L596.36,379.51 L596.42,379.95 L596.49,380.39 L596.55,380.83 L596.62,381.28 L596.69,381.72 L596.75,382.16 L596.82,382.60 L596.88,383.04 L596.95,383.49 L597.02,383.93 L597.08,384.38 L597.15,384.82 L597.21,385.26 L597.28,385.71 L597.34,386.15 L597.41,386.60 L597.48,387.05 L597.54,387.49 L597.61,387.94 L597.67,388.38 L597.74,388.83 L597.80,389.28 L597.87,389.73 L597.94,390.17 L598.00,390.62 L598.07,391.07 L598.13,391.52 L598.20,391.97 L598.26,392.42 L598.33,392.87 L598.40,393.32 L598.46,393.77 L598.53,394.22 L598.59,394.67 L598.66,395.12 L598.72,395.57 L598.79,396.02 L598.86,396.47 L598.92,396.93 L598.99,397.38 L599.05,397.83 L599.12,398.28 L599.19,398.74 L599.25,399.19 L599.32,399.64 L599.38,400.10 L599.45,400.55 L599.51,401.01 L599.58,401.46 L599.65,401.92 L599.71,402.37 L599.78,402.83 L599.84,403.29 L599.91,403.74 L599.97,404.20 L600.04,404.66 L600.11,405.11 L600.17,405.57 L600.24,406.03 L600.30,406.49 L600.37,406.95 L600.43,407.40 L600.50,407.86 L600.57,408.32 L600.63,408.78 L600.70,409.24 L600.76,409.70 L600.83,410.16 L600.89,410.62 L600.96,411.08 L601.03,411.54 L601.09,412.00 L601.16,412.47 L601.22,412.93 L601.29,413.39 L601.36,413.85 L601.42,414.32 L601.49,414.78 L601.55,415.24 L601.62,415.71 L601.68,416.17 L601.75,416.63 L601.82,417.10 L601.88,417.56 L601.95,418.03 L602.01,418.49 L602.08,418.96 L602.14,419.42 L602.21,419.89 L602.28,420.35 L602.34,420.82 L602.41,421.29 L602.47,421.75 L602.54,422.22 L602.60,422.69 L602.67,423.16 L602.74,423.62 L602.80,424.09 L602.87,424.56 L602.93,425.03 L603.00,425.50 L603.06,425.96 L603.13,426.43 L603.20,426.90 L603.26,427.37 L603.33,427.84 L603.39,428.32 L603.46,428.79 L603.53,429.26 L603.59,429.73 L603.66,430.20 L603.72,430.67 L603.79,431.14 L603.85,431.61 L603.92,432.09 L603.99,432.56 L604.05,433.03 L604.12,433.50 L604.18,433.98 L604.25,434.45 L604.31,434.92 L604.38,435.40 L604.45,435.87 L604.51,436.35 L604.58,436.82 L604.64,437.30 L604.71,437.77 L604.77,438.25 L604.84,438.72 L604.91,439.20 L604.97,439.67 L605.04,440.15 L605.10,440.63 L605.17,441.10 L605.23,441.58 L605.30,442.06 L605.37,442.53 L605.43,443.01 L605.50,443.49 L605.56,443.97 L605.63,444.45 L605.70,444.92 L605.76,445.40 L605.83,445.88 L605.89,446.36 L605.96,446.84 L606.02,447.32 L606.09,447.80 L606.16,448.28 L606.22,448.76 L606.29,449.24 L606.35,449.72 L606.42,450.20 L606.48,450.68 L606.55,451.17 L606.62,451.65 L606.68,452.13 L606.75,452.61 L606.81,453.09 L606.88,453.58 L606.94,454.06 L607.01,454.54 L607.08,455.03 L607.14,455.51 L607.21,455.99 L607.27,456.48 L607.34,456.96 L607.40,457.44 L607.47,457.93 L607.54,458.41 L607.60,458.90 L607.67,459.38 L607.73,459.87 L607.80,460.36 L607.87,460.84 L607.93,461.33 L608.00,461.81 L608.06,462.30 L608.13,462.79 L608.19,463.27 L608.26,463.76 L608.33,464.25 L608.39,464.74 L608.46,465.22 L608.52,465.71 L608.59,466.20 L608.65,466.69 L608.72,467.18 L608.79,467.66 L608.85,468.15 L608.92,468.64 L608.98,469.13 L609.05,469.62 L609.11,470.11 L609.18,470.60 L609.25,471.09 L609.31,471.58 L609.38,472.07 L609.44,472.56 L609.51,473.05 L609.57,473.54 L609.64,474.04 L609.71,474.53 L609.77,475.02 L609.84,475.51 L609.90,476.00 L609.97,476.50 L610.04,476.99 L610.10,477.48 L610.17,477.98 L610.23,478.47 L610.30,478.96 L610.36,479.45 L610.43,479.95 L610.50,480.44 L610.56,480.94 L610.63,481.43 L610.69,481.93 L610.76,482.42 L610.82,482.92 L610.89,483.41 L610.96,483.91 L611.02,484.40 L611.09,484.90 L611.15,485.39 L611.22,485.89 L611.28,486.39 L611.35,486.88 L611.42,487.38" stroke="#0072bd" stroke-linecap="butt"/>
<path d="M74.65,488.70 L75.05,488.36 L75.44,488.02 L75.84,487.67 L76.24,487.33 L76.63,486.99 L77.03,486.65 L77.43,486.30 L77.82,485.96 L78.22,485.62 L78.61,485.28 L79.01,484.93 L79.41,484.59 L79.80,484.25 L80.20,483.91 L80.60,483.57 L80.99,483.22 L81.39,482.88 L81.79,482.54 L82.18,482.20 L82.58,481.85 L82.98,481.51 L83.37,481.17 L83.77,480.82 L84.17,480.48 L84.56,480.14 L84.96,479.80 L85.35,479.45 L85.75,479.11 L86.15,478.77 L86.54,478.43 L86.94,478.08 L87.34,477.74 L87.73,477.40 L88.13,477.05 L88.53,476.71 L88.92,476.37 L89.32,476.03 L89.72,475.68 L90.11,475.34 L90.51,475.00 L90.90,474.65 L91.30,474.31 L91.70,473.97 L92.09,473.62 L92.49,473.28 L92.89,472.94 L93.28,472.59 L93.68,472.25 L94.08,471.91 L94.47,471.57 L94.87,471.22 L95.27,470.88 L95.66,470.54 L96.06,470.19 L96.46,469.85 L96.85,469.51 L97.25,469.16 L97.64,468.82 L98.04,468.48 L98.44,468.13 L98.83,467.79 L99.23,467.45 L99.63,467.10 L100.02,466.76 L100.42,466.41 L100.82,466.07 L101.21,465.73 L101.61,465.38 L102.01,465.04 L102.40,464.70 L102.80,464.35 L103.20,464.01 L103.59,463.67 L103.99,463.32 L104.38,462.98 L104.78,462.63 L105.18,462.29 L105.57,461.95 L105.97,461.60 L106.37,461.26 L106.76,460.92 L107.16,460.57 L107.56,460.23 L107.95,459.88 L108.35,459.54 L108.75,459.20 L109.14,458.85 L109.54,458.51 L109.94,458.16 L110.33,457.82 L110.73,457.48 L111.12,457.13 L111.52,456.79 L111.92,456.44 L112.31,456.10 L112.71,455.75 L113.11,455.41 L113.50,455.07 L113.90,454.72 L114.30,454.38 L114.69,454.03 L115.09,453.69 L115.49,453.34 L115.88,453.00 L116.28,452.66 L116.68,452.31 L117.07,451.97 L117.47,451.62 L117.86,451.28 L118.26,450.93 L118.66,450.59 L119.05,450.24 L119.45,449.90 L119.85,449.56 L120.24,449.21 L120.64,448.87 L121.04,448.52 L121.43,448.18 L121.83,447.83 L122.23,447.49 L122.62,447.14 L123.02,446.80 L123.41,446.45 L123.81,446.11 L124.21,445.76 L124.60,445.42 L125.00,445.07 L125.40,444.73 L125.79,444.38 L126.19,444.04 L126.59,443.69 L126.98,443.35 L127.38,443.00 L127.78,442.66 L128.17,442.31 L128.57,441.97 L128.97,441.62 L129.36,441.28 L129.76,440.93 L130.15,440.59 L130.55,440.24 L130.95,439.90 L131.34,439.55 L131.74,439.21 L132.14,438.86 L132.53,438.52 L132.93,438.17 L133.33,437.83 L133.72,437.48 L134.12,437.14 L134.52,436.79 L134.91,436.45 L135.31,436.10 L135.71,435.76 L136.10,435.41 L136.50,435.06 L136.89,434.72 L137.29,434.37 L137.69,434.03 L138.08,433.68 L138.48,433.34 L138.88,432.99 L139.27,432.65 L139.67,432.30 L140.07,431.95 L140.46,431.61 L140.86,431.26 L141.26,430.92 L141.65,430.57 L142.05,430.23 L142.45,429.88 L142.84,429.53 L143.24,429.19 L143.63,428.84 L144.03,428.50 L144.43,428.15 L144.82,427.80 L145.22,427.46 L145.62,427.11 L146.01,426.77 L146.41,426.42 L146.81,426.08 L147.20,425.73 L147.60,425.38 L148.00,425.04 L148.39,424.69 L148.79,424.34 L149.19,424.00 L149.58,423.65 L149.98,423.31 L150.37,422.96 L150.77,422.61 L151.17,422.27 L151.56,421.92 L151.96,421.58 L152.36,421.23 L152.75,420.88 L153.15,420.54 L153.55,420.19 L153.94,419.84 L154.34,419.50 L154.74,419.15 L155.13,418.81 L155.53,418.46 L155.92,418.11 L156.32,417.77 L156.72,417.42 L157.11,417.07 L157.51,416.73 L157.91,416.38 L158.30,416.03 L158.70,415.69 L159.10,415.34 L159.49,414.99 L159.89,414.65 L160.29,414.30 L160.68,413.95 L161.08,413.61 L161.48,413.26 L161.87,412.91 L162.27,412.57 L162.66,412.22 L163.06,411.87 L163.46,411.53 L163.85,411.18 L164.25,410.83 L164.65,410.49 L165.04,410.14 L165.44,409.79 L165.84,409.45 L166.23,409.10 L166.63,408.75 L167.03,408.41 L167.42,408.06 L167.82,407.71 L168.22,407.37 L168.61,407.02 L169.01,406.67 L169.40,406.33 L169.80,405.98 L170.20,405.63 L170.59,405.28 L170.99,404.94 L171.39,404.59 L171.78,404.24 L172.18,403.90 L172.58,403.55 L172.97,403.20 L173.37,402.86 L173.77,402.51 L174.16,402.16 L174.56,401.81 L174.96,401.47 L175.35,401.12 L175.75,400.77 L176.14,400.43 L176.54,400.08 L176.94,399.73 L177.33,399.39 L177.73,399.04 L178.13,398.69 L178.52,398.35 L178.92,398.00 L179.32,397.65 L179.71,397.30 L180.11,396.96 L180.51,396.61 L180.90,396.26 L181.30,395.92 L181.70,395.57 L182.09,395.22 L182.49,394.88 L182.88,394.53 L183.28,394.18 L183.68,393.84 L184.07,393.49 L184.47,393.14 L184.87,392.80 L185.26,392.45 L185.66,392.10 L186.06,391.76 L186.45,391.41 L186.85,391.06 L187.25,390.72 L187.64,390.37 L188.04,390.03 L188.43,389.68 L188.83,389.33 L189.23,388.99 L189.62,388.64 L190.02,388.29 L190.42,387.95 L190.81,387.60 L191.21,387.26 L191.61,386.91 L192.00,386.57 L192.40,386.22 L192.80,385.87 L193.19,385.53 L193.59,385.18 L193.99,384.84 L194.38,384.49 L194.78,384.15 L195.17,383.80 L195.57,383.46 L195.97,383.11 L196.36,382.77 L196.76,382.43 L197.16,382.08 L197.55,381.74 L197.95,381.39 L198.35,381.05 L198.74,380.71 L199.14,380.36 L199.54,380.02 L199.93,379.68 L200.33,379.33 L200.73,378.99 L201.12,378.65 L201.52,378.31 L201.91,377.96 L202.31,377.62 L202.71,377.28 L203.10,376.94 L203.50,376.60 L203.90,376.26 L204.29,375.92 L204.69,375.58 L205.09,375.24 L205.48,374.90 L205.88,374.56 L206.28,374.22 L206.67,373.88 L207.07,373.54 L207.47,373.20 L207.86,372.87 L208.26,372.53 L208.65,372.19 L209.05,371.85 L209.45,371.52 L209.84,371.18 L210.24,370.85 L210.64,370.51 L211.03,370.18 L211.43,369.85 L211.83,369.51 L212.22,369.18 L212.62,368.85 L213.02,368.52 L213.41,368.19 L213.81,367.86 L214.21,367.53 L214.60,367.20 L215.00,366.88 L215.39,366.55 L215.79,366.22 L216.19,365.90 L216.58,365.58 L216.98,365.25 L217.38,364.93 L217.77,364.61 L218.17,364.29 L218.57,363.97 L218.96,363.65 L219.36,363.34 L219.76,363.02 L220.15,362.71 L220.55,362.39 L220.94,362.08 L221.34,361.77 L221.74,361.46 L222.13,361.15 L222.53,360.85 L222.93,360.54 L223.32,360.24 L223.72,359.94 L224.12,359.64 L224.51,359.34 L224.91,359.04 L225.31,358.75 L225.70,358.46 L226.10,358.17 L226.50,357.88 L226.89,357.60 L227.29,357.31 L227.68,357.03 L228.08,356.75 L228.48,356.48 L228.87,356.21 L229.27,355.94 L229.67,355.67 L230.06,355.40 L230.46,355.14 L230.86,354.89 L231.25,354.63 L231.65,354.38 L232.05,354.13 L232.44,353.89 L232.84,353.65 L233.24,353.41 L233.63,353.18 L234.03,352.95 L234.42,352.73 L234.82,352.51 L235.22,352.29 L235.61,352.08 L236.01,351.88 L236.41,351.68 L236.80,351.49 L237.20,351.30 L237.60,351.12 L237.99,350.94 L238.39,350.77 L238.79,350.61 L239.18,350.45 L239.58,350.30 L239.98,350.16 L240.37,350.02 L240.77,349.90 L241.16,349.78 L241.56,349.66 L241.96,349.56 L242.35,349.47 L242.75,349.38 L243.15,349.31 L243.54,349.24 L243.94,349.19 L244.34,349.14 L244.73,349.11 L245.13,349.09 L245.53,349.08 L245.92,349.08 L246.32,349.10 L246.72,349.12 L247.11,349.17 L247.51,349.22 L247.90,349.29 L248.30,349.38 L248.70,349.48 L249.09,349.59 L249.49,349.73 L249.89,349.88 L250.28,350.04 L250.68,350.23 L251.08,350.44 L251.47,350.66 L251.87,350.91 L252.27,351.18 L252.66,351.47 L253.06,351.78 L253.45,352.12 L253.85,352.48 L254.25,352.87 L254.64,353.28 L255.04,353.72 L255.44,354.19 L255.83,354.69 L256.23,355.22 L256.63,355.78 L257.02,356.37 L257.42,357.00 L257.82,357.66 L258.21,358.36 L258.61,359.09 L259.01,359.86 L259.40,360.68 L259.80,361.53 L260.19,362.43 L260.59,363.37 L260.99,364.36 L261.38,365.40 L261.78,366.07 L262.18,365.81 L262.57,365.55 L262.97,365.30 L263.37,365.04 L263.76,364.78 L264.16,364.52 L264.56,364.26 L264.95,364.00 L265.35,363.75 L265.75,363.49 L266.14,363.23 L266.54,362.97 L266.93,362.71 L267.33,362.46 L267.73,362.20 L268.12,361.94 L268.52,361.68 L268.92,361.42 L269.31,361.16 L269.71,360.91 L270.11,360.65 L270.50,360.39 L270.90,360.13 L271.30,359.87 L271.69,359.61 L272.09,359.36 L272.49,359.10 L272.88,358.84 L273.28,358.58 L273.67,358.32 L274.07,358.07 L274.47,357.81 L274.86,357.55 L275.26,357.29 L275.66,357.03 L276.05,356.77 L276.45,356.52 L276.85,356.26 L277.24,356.00 L277.64,355.74 L278.04,355.48 L278.43,355.23 L278.83,354.97 L279.23,354.71 L279.62,354.45 L280.02,354.19 L280.41,353.94 L280.81,353.68 L281.21,353.42 L281.60,353.16 L282.00,352.90 L282.40,352.65 L282.79,352.39 L283.19,352.13 L283.59,351.87 L283.98,351.61 L284.38,351.35 L284.78,351.10 L285.17,350.84 L285.57,350.58 L285.96,350.32 L286.36,350.07 L286.76,349.81 L287.15,349.55 L287.55,349.29 L287.95,349.03 L288.34,348.78 L288.74,348.52 L289.14,348.26 L289.53,348.00 L289.93,347.74 L290.33,347.49 L290.72,347.23 L291.12,346.97 L291.52,346.71 L291.91,346.45 L292.31,346.20 L292.70,345.94 L293.10,345.68 L293.50,345.42 L293.89,345.16 L294.29,344.91 L294.69,344.65 L295.08,344.39 L295.48,344.13 L295.88,343.88 L296.27,343.62 L296.67,343.36 L297.07,343.10 L297.46,342.84 L297.86,342.59 L298.26,342.33 L298.65,342.07 L299.05,341.81 L299.44,341.56 L299.84,341.30 L300.24,341.04 L300.63,340.78 L301.03,340.52 L301.43,340.27 L301.82,340.01 L302.22,339.75 L302.62,339.49 L303.01,339.24 L303.41,338.98 L303.81,338.72 L304.20,338.46 L304.60,338.20 L305.00,337.95 L305.39,337.69 L305.79,337.43 L306.18,337.17 L306.58,336.92 L306.98,336.66 L307.37,336.40 L307.77,336.14 L308.17,335.89 L308.56,335.63 L308.96,335.37 L309.36,335.11 L309.75,334.86 L310.15,334.60 L310.55,334.34 L310.94,334.08 L311.34,333.82 L311.73,333.57 L312.13,333.31 L312.53,333.05 L312.92,332.79 L313.32,332.54 L313.72,332.28 L314.11,332.02 L314.51,331.76 L314.91,331.51 L315.30,331.25 L315.70,330.99 L316.10,330.73 L316.49,330.48 L316.89,330.22 L317.29,329.96 L317.68,329.70 L318.08,329.45 L318.47,329.19 L318.87,328.93 L319.27,328.67 L319.66,328.42 L320.06,328.16 L320.46,327.90 L320.85,327.65 L321.25,327.39 L321.65,327.13 L322.04,326.87 L322.44,326.62 L322.84,326.36 L323.23,326.10 L323.63,325.84 L324.03,325.59 L324.42,325.33 L324.82,325.07 L325.21,324.81 L325.61,324.56 L326.01,324.30 L326.40,324.04 L326.80,323.78 L327.20,323.53 L327.59,323.27 L327.99,323.01 L328.39,322.76 L328.78,322.50 L329.18,322.24 L329.58,321.98 L329.97,321.73 L330.37,321.47 L330.77,321.21 L331.16,320.95 L331.56,320.70 L331.95,320.44 L332.35,320.18 L332.75,319.93 L333.14,319.67 L333.54,319.41 L333.94,319.15 L334.33,318.90 L334.73,318.64 L335.13,318.38 L335.52,318.13 L335.92,317.87 L336.32,317.61 L336.71,317.35 L337.11,317.10 L337.51,316.84 L337.90,316.58 L338.30,316.33 L338.69,316.07 L339.09,315.81 L339.49,315.56 L339.88,315.30 L340.28,315.04 L340.68,314.78 L341.07,314.53 L341.47,314.27 L341.87,314.01 L342.26,313.76 L342.66,313.50 L343.06,313.24 L343.45,312.99 L343.85,312.73 L344.24,312.47 L344.64,312.22 L345.04,311.96 L345.43,311.70 L345.83,311.44 L346.23,311.19 L346.62,310.93 L347.02,310.67 L347.42,310.42 L347.81,310.16 L348.21,309.90 L348.61,309.65 L349.00,309.39 L349.40,309.13 L349.80,308.88 L350.19,308.62 L350.59,308.36 L350.98,308.11 L351.38,307.85 L351.78,307.59 L352.17,307.34 L352.57,307.08 L352.97,306.82 L353.36,306.57 L353.76,306.31 L354.16,306.06 L354.55,305.80 L354.95,305.54 L355.35,305.29 L355.74,305.03 L356.14,304.77 L356.54,304.52 L356.93,304.26 L357.33,304.00 L357.72,303.75 L358.12,303.49 L358.52,303.24 L358.91,302.98 L359.31,302.72 L359.71,302.47 L360.10,302.21 L360.50,301.95 L360.90,301.70 L361.29,301.44 L361.69,301.19 L362.09,300.93 L362.48,300.67 L362.88,300.42 L363.28,300.16 L363.67,299.91 L364.07,299.65 L364.46,299.40 L364.86,299.14 L365.26,298.88 L365.65,298.63 L366.05,298.37 L366.45,298.12 L366.84,297.86 L367.24,297.61 L367.64,297.35 L368.03,297.10 L368.43,296.84 L368.83,296.59 L369.22,296.33 L369.62,296.07 L370.02,295.82 L370.41,295.56 L370.81,295.31 L371.20,295.05 L371.60,294.80 L372.00,294.55 L372.39,294.29 L372.79,294.04 L373.19,293.78 L373.58,293.53 L373.98,293.27 L374.38,293.02 L374.77,292.76 L375.17,292.51 L375.57,292.25 L375.96,292.00 L376.36,291.75 L376.75,291.49 L377.15,291.24 L377.55,290.99 L377.94,290.73 L378.34,290.48 L378.74,290.22 L379.13,289.97 L379.53,289.72 L379.93,289.47 L380.32,289.21 L380.72,288.96 L381.12,288.71 L381.51,288.45 L381.91,288.20 L382.31,287.95 L382.70,287.70 L383.10,287.44 L383.49,287.19 L383.89,286.94 L384.29,286.69 L384.68,286.44 L385.08,286.19 L385.48,285.94 L385.87,285.68 L386.27,285.43 L386.67,285.18 L387.06,284.93 L387.46,284.68 L387.86,284.43 L388.25,284.18 L388.65,283.93 L389.05,283.68 L389.44,283.43 L389.84,283.19 L390.23,282.94 L390.63,282.69 L391.03,282.44 L391.42,282.19 L391.82,281.95 L392.22,281.70 L392.61,281.45 L393.01,281.20 L393.41,280.96 L393.80,280.71 L394.20,280.47 L394.60,280.22 L394.99,279.97 L395.39,279.73 L395.79,279.49 L396.18,279.24 L396.58,279.00 L396.97,278.75 L397.37,278.51 L397.77,278.27 L398.16,278.03 L398.56,277.79 L398.96,277.54 L399.35,277.30 L399.75,277.06 L400.15,276.82 L400.54,276.59 L400.94,276.35 L401.34,276.11 L401.73,275.87 L402.13,275.64 L402.53,275.40 L402.92,275.16 L403.32,274.93 L403.71,274.69 L404.11,274.46 L404.51,274.23 L404.90,274.00 L405.30,273.77 L405.70,273.53 L406.09,273.31 L406.49,273.08 L406.89,272.85 L407.28,272.62 L407.68,272.40 L408.08,272.17 L408.47,271.95 L408.87,271.72 L409.26,271.50 L409.66,271.28 L410.06,271.06 L410.45,270.84 L410.85,270.62 L411.25,270.41 L411.64,270.19 L412.04,269.98 L412.44,269.77 L412.83,269.55 L413.23,269.34 L413.63,269.14 L414.02,268.93 L414.42,268.72 L414.82,268.52 L415.21,268.32 L415.61,268.12 L416.00,267.92 L416.40,267.72 L416.80,267.53 L417.19,267.33 L417.59,267.14 L417.99,266.95 L418.38,266.77 L418.78,266.58 L419.18,266.40 L419.57,266.22 L419.97,266.04 L420.37,265.87 L420.76,265.69 L421.16,265.52 L421.56,265.36 L421.95,265.19 L422.35,265.03 L422.74,264.87 L423.14,264.71 L423.54,264.56 L423.93,264.41 L424.33,264.26 L424.73,264.12 L425.12,263.98 L425.52,263.85 L425.92,263.72 L426.31,263.59 L426.71,263.46 L427.11,263.34 L427.50,263.23 L427.90,263.12 L428.30,263.01 L428.69,262.91 L429.09,262.81 L429.48,262.72 L429.88,262.63 L430.28,262.55 L430.67,262.47 L431.07,262.40 L431.47,262.34 L431.86,262.28 L432.26,262.23 L432.66,262.18 L433.05,262.14 L433.45,262.11 L433.85,262.08 L434.24,262.06 L434.64,262.05 L435.04,262.05 L435.43,262.05 L435.83,262.06 L436.22,262.08 L436.62,262.11 L437.02,262.15 L437.41,262.20 L437.81,262.25 L438.21,262.32 L438.60,262.40 L439.00,262.48 L439.40,262.58 L439.79,262.69 L440.19,262.81 L440.59,262.94 L440.98,263.08 L441.38,263.24 L441.77,263.41 L442.17,263.59 L442.57,263.79 L442.96,264.00 L443.36,264.22 L443.76,264.46 L444.15,264.72 L444.55,264.99 L444.95,265.28 L445.34,265.58 L445.74,265.91 L446.14,266.25 L446.53,266.61 L446.93,266.98 L447.33,267.38 L447.72,267.80 L448.12,268.24 L448.51,268.70 L448.91,269.18 L449.31,269.69 L449.70,270.22 L450.10,270.78 L450.50,271.36 L450.89,271.96 L451.29,272.60 L451.69,273.26 L452.08,273.95 L452.48,274.67 L452.88,275.42 L453.27,276.20 L453.67,277.01 L454.07,277.86 L454.46,278.74 L454.86,279.66 L455.25,280.04 L455.65,279.83 L456.05,279.63 L456.44,279.43 L456.84,279.22 L457.24,279.02 L457.63,278.81 L458.03,278.61 L458.43,278.40 L458.82,278.20 L459.22,277.99 L459.62,277.79 L460.01,277.58 L460.41,277.38 L460.81,277.18 L461.20,276.97 L461.60,276.77 L461.99,276.56 L462.39,276.36 L462.79,276.15 L463.18,275.95 L463.58,275.75 L463.98,275.54 L464.37,275.34 L464.77,275.13 L465.17,274.93 L465.56,274.73 L465.96,274.52 L466.36,274.32 L466.75,274.11 L467.15,273.91 L467.55,273.71 L467.94,273.50 L468.34,273.30 L468.73,273.10 L469.13,272.89 L469.53,272.69 L469.92,272.48 L470.32,272.28 L470.72,272.08 L471.11,271.87 L471.51,271.67 L471.91,271.47 L472.30,271.26 L472.70,271.06 L473.10,270.86 L473.49,270.65 L473.89,270.45 L474.28,270.24 L474.68,270.04 L475.08,269.84 L475.47,269.63 L475.87,269.43 L476.27,269.23 L476.66,269.02 L477.06,268.82 L477.46,268.62 L477.85,268.42 L478.25,268.21 L478.65,268.01 L479.04,267.81 L479.44,267.60 L479.84,267.40 L480.23,267.20 L480.63,266.99 L481.02,266.79 L481.42,266.59 L481.82,266.38 L482.21,266.18 L482.61,265.98 L483.01,265.78 L483.40,265.57 L483.80,265.37 L484.20,265.17 L484.59,264.96 L484.99,264.76 L485.39,264.56 L485.78,264.36 L486.18,264.15 L486.58,263.95 L486.97,263.75 L487.37,263.55 L487.76,263.34 L488.16,263.14 L488.56,262.94 L488.95,262.74 L489.35,262.53 L489.75,262.33 L490.14,262.13 L490.54,261.93 L490.94,261.72 L491.33,261.52 L491.73,261.32 L492.13,261.12 L492.52,260.92 L492.92,260.71 L493.32,260.51 L493.71,260.31 L494.11,260.11 L494.50,259.91 L494.90,259.70 L495.30,259.50 L495.69,259.30 L496.09,259.10 L496.49,258.90 L496.88,258.69 L497.28,258.49 L497.68,258.29 L498.07,258.09 L498.47,257.89 L498.87,257.68 L499.26,257.48 L499.66,257.28 L500.06,257.08 L500.45,256.88 L500.85,256.68 L501.24,256.48 L501.64,256.27 L502.04,256.07 L502.43,255.87 L502.83,255.67 L503.23,255.47 L503.62,255.27 L504.02,255.07 L504.42,254.86 L504.81,254.66 L505.21,254.46 L505.61,254.26 L506.00,254.06 L506.40,253.86 L506.79,253.66 L507.19,253.46 L507.59,253.26 L507.98,253.06 L508.38,252.86 L508.78,252.65 L509.17,252.45 L509.57,252.25 L509.97,252.05 L510.36,251.85 L510.76,251.65 L511.16,251.45 L511.55,251.25 L511.95,251.05 L512.35,250.85 L512.74,250.65 L513.14,250.45 L513.53,250.26 L513.93,250.06 L514.33,249.86 L514.72,249.66 L515.12,249.46 L515.52,249.26 L515.91,249.06 L516.31,248.86 L516.71,248.67 L517.10,248.47 L517.50,248.27 L517.90,248.07 L518.29,247.88 L518.69,247.68 L519.09,247.49 L519.48,247.29 L519.88,247.10 L520.27,246.90 L520.67,246.71 L521.07,246.51 L521.46,246.32 L521.86,246.13 L522.26,245.94 L522.65,245.75 L523.05,245.56 L523.45,245.37 L523.84,245.18 L524.24,244.99 L524.64,244.80 L525.03,244.62 L525.43,244.43 L525.83,244.25 L526.22,244.07 L526.62,243.89 L527.01,243.71 L527.41,243.54 L527.81,243.36 L528.20,243.19 L528.60,243.02 L529.00,242.85 L529.39,242.69 L529.79,242.53 L530.19,242.37 L530.58,242.21 L530.98,242.06 L531.38,241.91 L531.77,241.77 L532.17,241.63 L532.56,241.49 L532.96,241.36 L533.36,241.23 L533.75,241.11 L534.15,241.00 L534.55,240.89 L534.94,240.79 L535.34,240.70 L535.74,240.61 L536.13,240.53 L536.53,240.46 L536.93,240.40 L537.32,240.35 L537.72,240.31 L538.12,240.28 L538.51,240.26 L538.91,240.25 L539.30,240.25 L539.70,240.27 L540.10,240.30 L540.49,240.34 L540.89,240.40 L541.29,240.47 L541.68,240.56 L542.08,240.66 L542.48,240.78 L542.87,240.91 L543.27,241.07 L543.67,241.24 L544.06,241.43 L544.46,241.63 L544.86,241.86 L545.25,242.10 L545.65,242.36 L546.04,242.65 L546.44,242.95 L546.84,243.27 L547.23,243.61 L547.63,243.98 L548.03,244.36 L548.42,244.76 L548.82,245.19 L549.22,245.63 L549.61,246.10 L550.01,246.58 L550.41,247.09 L550.80,247.61 L551.20,248.16 L551.60,248.73 L551.99,249.32 L552.39,249.92 L552.78,250.55 L553.18,251.20 L553.58,251.87 L553.97,252.56 L554.37,253.27 L554.77,254.00 L555.16,254.74 L555.56,255.51 L555.96,256.30 L556.35,257.10 L556.75,257.93 L557.15,258.77 L557.54,259.63 L557.94,260.51 L558.34,261.42 L558.73,262.33 L559.13,263.27 L559.52,264.23 L559.92,265.20 L560.32,266.19 L560.71,267.20 L561.11,268.23 L561.51,269.27 L561.90,270.34 L562.30,271.42 L562.70,272.52 L563.09,273.63 L563.49,274.77 L563.89,275.92 L564.28,277.08 L564.68,278.27 L565.07,279.47 L565.47,280.69 L565.87,281.93 L566.26,283.18 L566.66,284.45 L567.06,285.73 L567.45,287.04 L567.85,288.36 L568.25,289.69 L568.64,291.05 L569.04,292.42 L569.44,293.80 L569.83,295.20 L570.23,296.62 L570.63,298.06 L571.02,299.51 L571.42,300.98 L571.81,302.46 L572.21,303.96 L572.61,305.48 L573.00,307.01 L573.40,308.56 L573.80,310.12 L574.19,311.70 L574.59,313.30 L574.99,314.91 L575.38,316.54 L575.78,318.18 L576.18,319.84 L576.57,321.52 L576.97,323.21 L577.37,324.92 L577.76,326.64 L578.16,328.38 L578.55,330.14 L578.95,331.91 L579.35,333.70 L579.74,335.50 L580.14,337.32 L580.54,339.15 L580.93,341.00 L581.33,342.87 L581.73,344.75 L582.12,346.65 L582.52,348.56 L582.92,350.49 L583.31,352.43 L583.71,354.39 L584.11,356.36 L584.50,358.36 L584.90,360.36 L585.29,362.38 L585.69,364.42 L586.09,366.47 L586.48,368.54 L586.88,370.62 L587.28,372.72 L587.67,374.84 L588.07,376.97 L588.47,379.11 L588.86,381.27 L589.26,383.45 L589.66,385.64 L590.05,387.85 L590.45,390.07 L590.85,392.31 L591.24,394.56 L591.64,396.83 L592.03,399.11 L592.43,401.41 L592.83,403.73 L593.22,406.05 L593.62,408.40 L594.02,410.76 L594.41,413.13 L594.81,415.53 L595.21,417.93 L595.60,420.35 L596.00,422.79 L596.40,425.24 L596.79,427.71 L597.19,430.19 L597.58,432.69 L597.98,435.20 L598.38,437.73 L598.77,440.26 L599.17,442.82 L599.57,445.40 L599.96,447.98 L600.36,450.59 L600.76,453.20 L601.15,455.84 L601.55,458.48 L601.95,461.14 L602.34,463.82 L602.74,466.51 L603.14,469.22 L603.53,471.94 L603.93,474.68 L604.32,477.43 L604.72,480.20 L605.12,482.98 L605.51,485.77 L605.91,488.59 L606.31,491.41 L606.70,494.26" stroke="#d95319"/>
</g>
<rect x="433.6" y="174.5" width="103" height="64.2" rx="3" fill="#fafaff" stroke="#b4b4b4" stroke-width="1.4"/>
<text y="201.1" x="525.4" text-anchor="end"><tspan class="k">X </tspan><tspan class="v">311.1</tspan></text>
<text y="224.2" x="525.4" text-anchor="end"><tspan class="k">Y </tspan><tspan class="v">4786.74</tspan></text>
<rect x="544.7" y="121.5" width="103" height="64.1" rx="3" fill="#fafaff" stroke="#b4b4b4" stroke-width="1.4"/>
<text y="148.9" x="553.5"><tspan class="k">X </tspan><tspan class="v">313.9</tspan></text>
<text y="172.1" x="553.5"><tspan class="k">Y </tspan><tspan class="v">5804.48</tspan></text>
<circle cx="542.6" cy="187.4" r="5.6" fill="#ffffe0"/><circle cx="542.6" cy="187.4" r="3.4" fill="#2b2b2b"/>
<circle cx="538.45" cy="240.25" r="5.6" fill="#ffffe0"/><circle cx="538.45" cy="240.25" r="3.4" fill="#2b2b2b"/>
</svg></body></html>
